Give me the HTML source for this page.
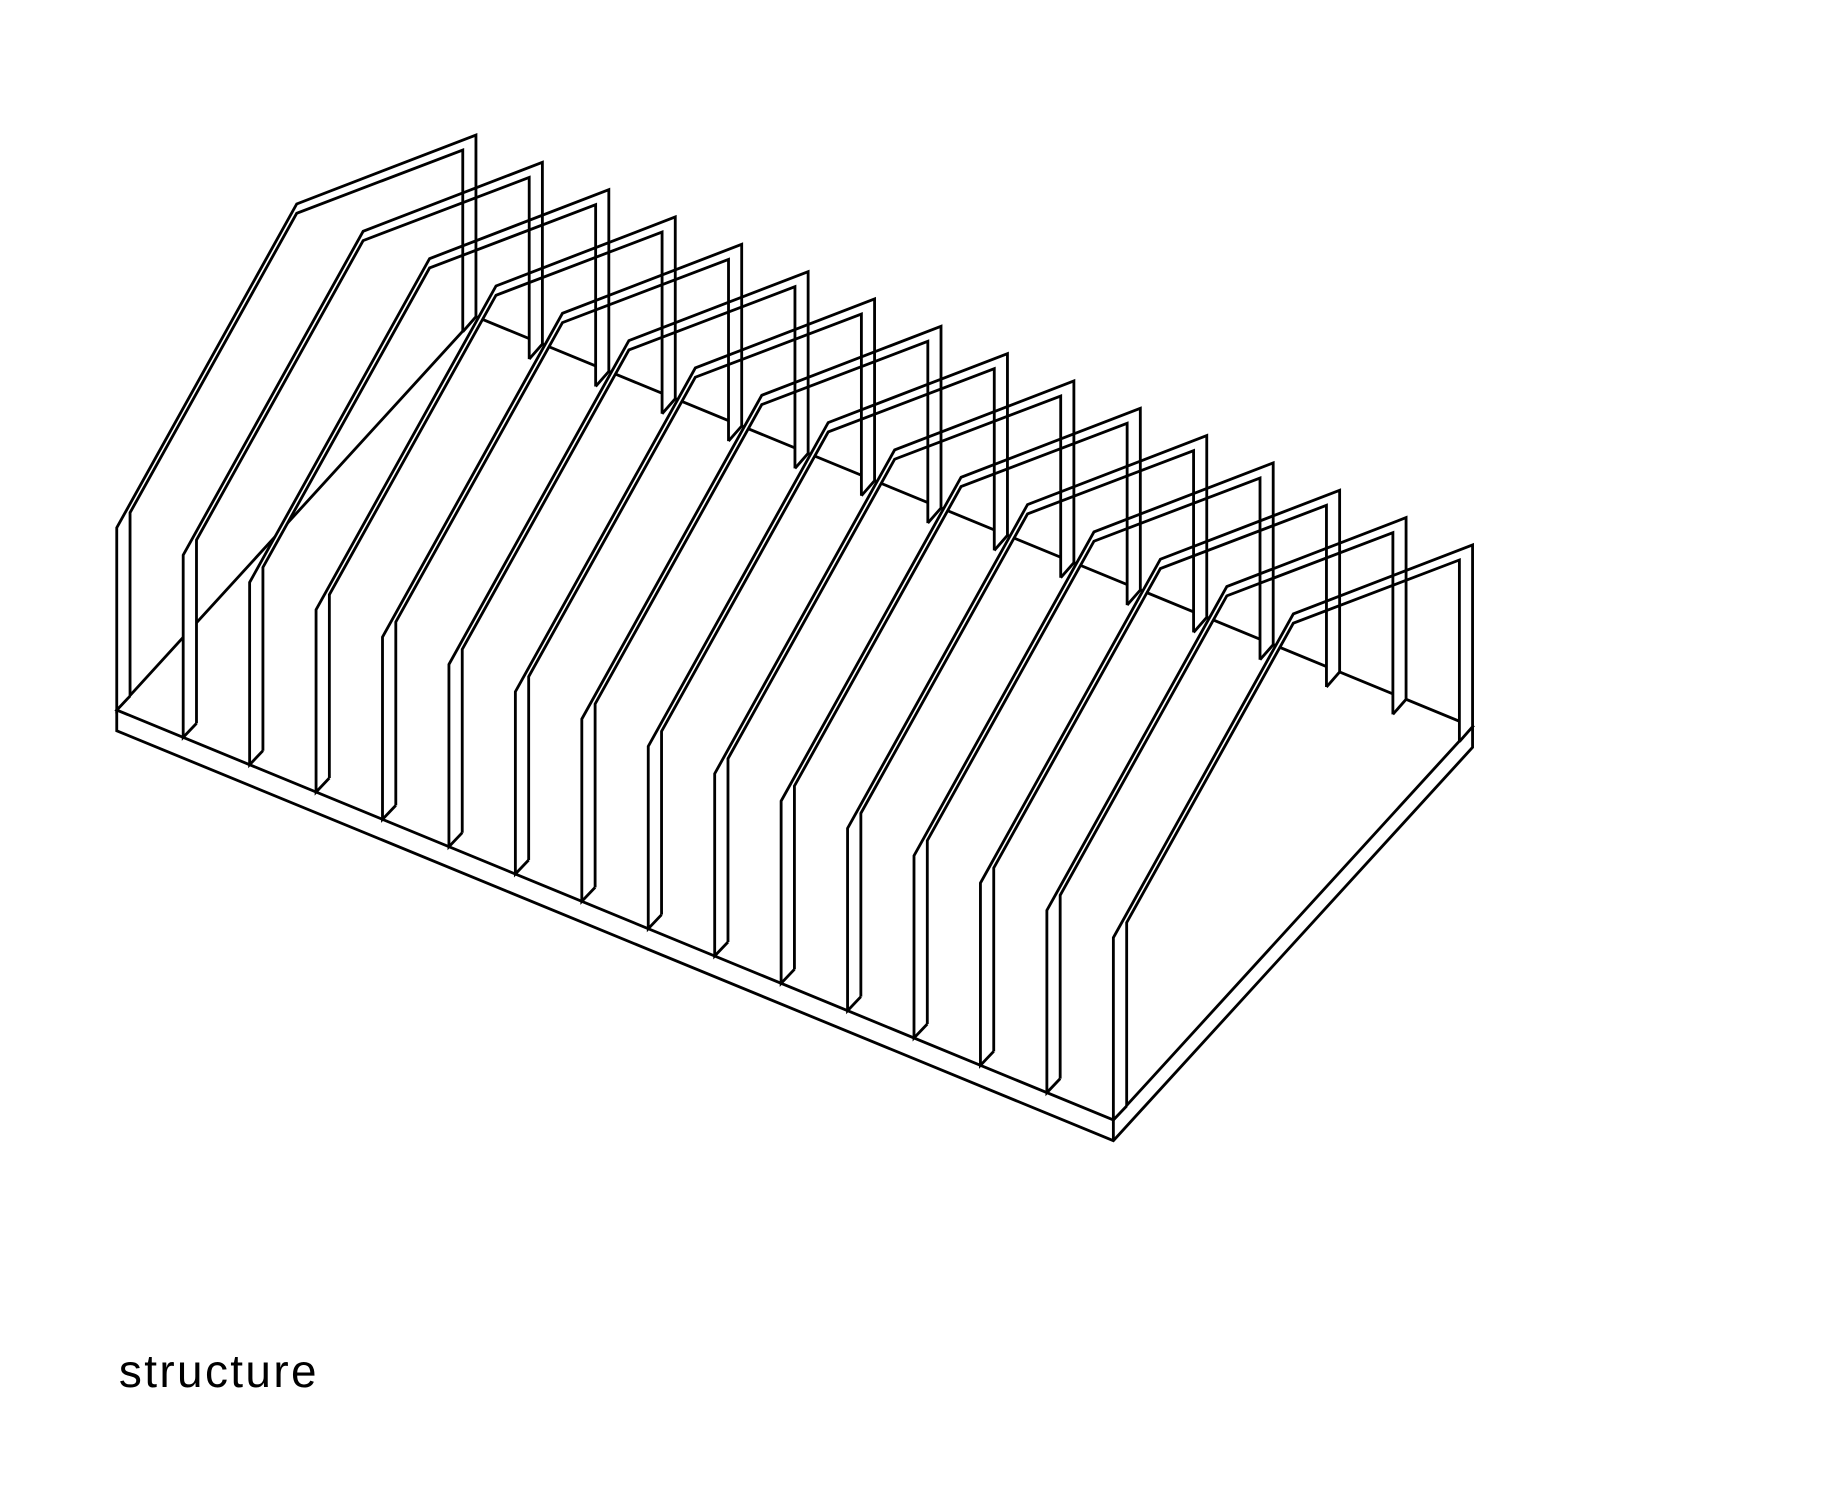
<!DOCTYPE html>
<html>
<head>
<meta charset="utf-8">
<style>
  html, body { margin: 0; padding: 0; background: #ffffff; }
  svg { display: block; }
</style>
</head>
<body>
<svg width="1836" height="1489" viewBox="0 0 1560 1265.14" xmlns="http://www.w3.org/2000/svg" preserveAspectRatio="none">
  <defs>
    <polygon id="ff" points="99.2,603.3 99.2,448.4 252.1,173.3 404.4,114.7 404.4,269.1 393.2,281.9 393.2,127.5 252.1,181.2 110.5,435.6 110.5,591.4" fill="#fff" stroke="none"/>
    <g id="fs" fill="none" stroke="#000" stroke-width="2.4" stroke-linejoin="miter">
      <polyline points="110.5,591.4 99.2,603.3 99.2,448.4 252.1,173.3 404.4,114.7 404.4,269.1 393.2,281.9"/>
      <polyline points="110.5,591.4 110.5,435.6 252.1,181.2 393.2,127.5 393.2,281.9"/>
    </g>
  </defs>
  <rect x="0" y="0" width="1560" height="1266" fill="#fff"/>
  <g fill="none" stroke="#000" stroke-width="2.4" stroke-linejoin="miter">
    <polyline points="404.4,269.1 99.2,603.3 946,951.6 1251.2,617.4 404.4,269.1"/>
    <polyline points="99.2,603.3 99.2,620.9 946,969.2 1251.2,635 1251.2,617.4"/>
    <line x1="946" y1="951.6" x2="946" y2="969.2"/>
  </g>
  <use href="#ff" transform="translate(0,0)"/>
  <use href="#ff" transform="translate(56.45,23.22)"/>
  <use href="#ff" transform="translate(112.9,46.44)"/>
  <use href="#ff" transform="translate(169.35,69.66)"/>
  <use href="#ff" transform="translate(225.8,92.88)"/>
  <use href="#ff" transform="translate(282.25,116.1)"/>
  <use href="#ff" transform="translate(338.7,139.32)"/>
  <use href="#ff" transform="translate(395.15,162.54)"/>
  <use href="#ff" transform="translate(451.6,185.76)"/>
  <use href="#ff" transform="translate(508.05,208.98)"/>
  <use href="#ff" transform="translate(564.5,232.2)"/>
  <use href="#ff" transform="translate(620.95,255.42)"/>
  <use href="#ff" transform="translate(677.4,278.64)"/>
  <use href="#ff" transform="translate(733.85,301.86)"/>
  <use href="#ff" transform="translate(790.3,325.08)"/>
  <use href="#ff" transform="translate(846.8,348.3)"/>
  <use href="#fs" transform="translate(0,0)"/>
  <use href="#fs" transform="translate(56.45,23.22)"/>
  <use href="#fs" transform="translate(112.9,46.44)"/>
  <use href="#fs" transform="translate(169.35,69.66)"/>
  <use href="#fs" transform="translate(225.8,92.88)"/>
  <use href="#fs" transform="translate(282.25,116.1)"/>
  <use href="#fs" transform="translate(338.7,139.32)"/>
  <use href="#fs" transform="translate(395.15,162.54)"/>
  <use href="#fs" transform="translate(451.6,185.76)"/>
  <use href="#fs" transform="translate(508.05,208.98)"/>
  <use href="#fs" transform="translate(564.5,232.2)"/>
  <use href="#fs" transform="translate(620.95,255.42)"/>
  <use href="#fs" transform="translate(677.4,278.64)"/>
  <use href="#fs" transform="translate(733.85,301.86)"/>
  <use href="#fs" transform="translate(790.3,325.08)"/>
  <use href="#fs" transform="translate(846.8,348.3)"/>
  <text x="101" y="1178.5" font-family="'Liberation Sans', 'DejaVu Sans', sans-serif" font-size="39" fill="#000" textLength="168" lengthAdjust="spacing">structure</text>
</svg>
</body>
</html>
